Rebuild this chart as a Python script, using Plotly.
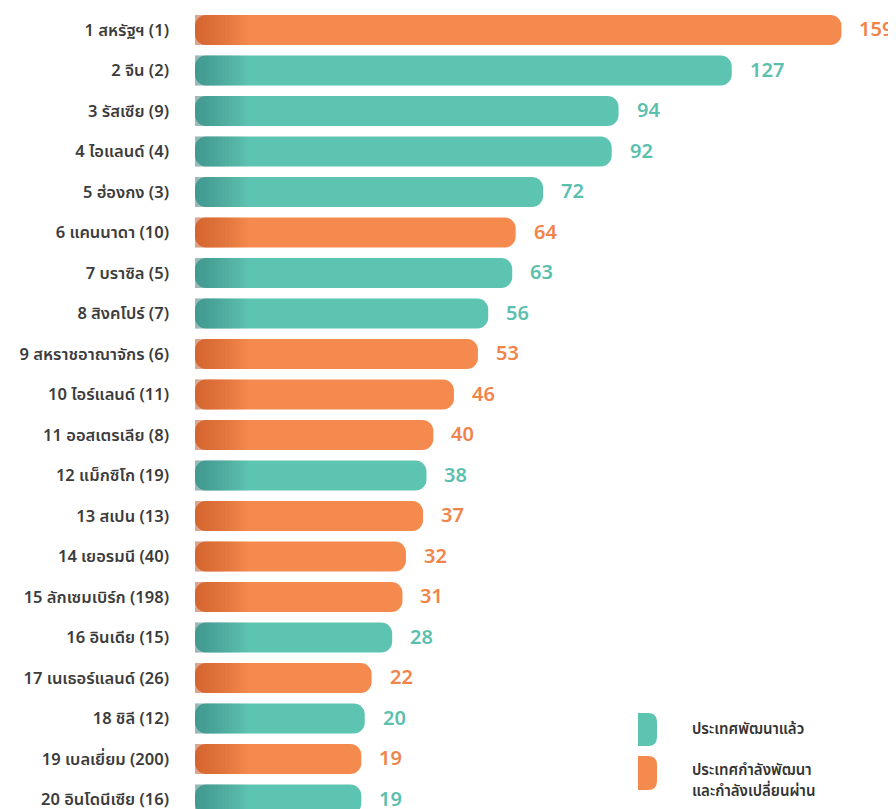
import plotly.graph_objects as go

labels = [
    "1 สหรัฐฯ (1)", "2 จีน (2)", "3 รัสเซีย (9)", "4 ไอแลนด์ (4)", "5 ฮ่องกง (3)",
    "6 แคนนาดา (10)", "7 บราซิล (5)", "8 สิงคโปร์ (7)", "9 สหราชอาณาจักร (6)",
    "10 ไอร์แลนด์ (11)", "11 ออสเตรเลีย (8)", "12 แม็กซิโก (19)", "13 สเปน (13)",
    "14 เยอรมนี (40)", "15 ลักเซมเบิร์ก (198)", "16 อินเดีย (15)",
    "17 เนเธอร์แลนด์ (26)", "18 ชิลี (12)", "19 เบลเยี่ยม (200)", "20 อินโดนีเซีย (16)",
]
values = [159, 127, 94, 92, 72, 64, 63, 56, 53, 46, 40, 38, 37, 32, 31, 28, 22, 20, 19, 19]
# D = developed, E = developing / transition
groups = ["E", "D", "D", "D", "D", "E", "D", "D", "E", "E",
          "E", "D", "E", "E", "E", "D", "E", "D", "E", "D"]
legend_lines = {"D": ["ประเทศพัฒนาแล้ว"], "E": ["ประเทศกำลังพัฒนา", "และกำลังเปลี่ยนผ่าน"]}

BAR_COL = {"D": "#5ec4b2", "E": "#f58a4e"}
DARK_COL = {"D": "rgba(40,120,105,0.045)", "E": "rgba(190,70,30,0.045)"}
TXT_COL = {"D": "#5bbfae", "E": "#f0844a"}

FONT = "Noto Sans Thai, Loma, Garuda, Noto Sans, sans-serif"
OFF = 8                      # page body margin in the browser
W, H = 896 - OFF, 809 - OFF
ML = 195 - OFF
AXIS_MIN, AXIS_MAX = -29.5, 174.9
ROW0, ROW_H = 30 - OFF, 40.5
Y_RANGE = [(H - ROW0) / ROW_H, -ROW0 / ROW_H]

fig = go.Figure()

for g in ["D", "E"]:
    idx = [i for i, gg in enumerate(groups) if gg == g]
    fig.add_trace(go.Bar(
        y=[labels[i] for i in idx],
        x=[values[i] - AXIS_MIN for i in idx],
        base=AXIS_MIN,
        orientation="h",
        width=0.74,
        marker=dict(color=BAR_COL[g], line=dict(width=0), cornerradius=11),
        name=" ".join(legend_lines[g]),
        showlegend=False,
        hovertext=[str(values[i]) for i in idx],
        hoverinfo="text+y",
    ))

# soft darker shading at the left end of each bar (gradient imitation)
for k in range(14):
    fig.add_trace(go.Bar(
        y=labels,
        x=[1.1 * (k + 1)] * len(labels),
        base=AXIS_MIN,
        orientation="h",
        width=0.74,
        marker=dict(color=[DARK_COL[g] for g in groups], line=dict(width=0), cornerradius=0),
        showlegend=False,
        hoverinfo="skip",
    ))

for lab, v, g in zip(labels, values, groups):
    fig.add_annotation(
        x=v, y=lab, xref="x", yref="y", text=str(v), showarrow=False,
        xanchor="left", yanchor="middle", xshift=16,
        font=dict(family=FONT, size=20, color=TXT_COL[g], weight=600),
    )

# custom legend (positions given in page pixels)
def px2paper(px, py):
    return (px - OFF - ML) / (W - ML), (H - (py - OFF)) / H

def rounded_right(x0, y0, x1, y1, r):
    a = px2paper(x0, y0)
    b = px2paper(x1 - r, y0)
    c = px2paper(x1, y0)
    d = px2paper(x1, y0 + r)
    e = px2paper(x1, y1 - r)
    f = px2paper(x1, y1)
    gq = px2paper(x1 - r, y1)
    h = px2paper(x0, y1)
    return (f"M {a[0]},{a[1]} L {b[0]},{b[1]} Q {c[0]},{c[1]} {d[0]},{d[1]} "
            f"L {e[0]},{e[1]} Q {f[0]},{f[1]} {gq[0]},{gq[1]} L {h[0]},{h[1]} Z")

fig.add_shape(type="path", xref="paper", yref="paper",
              path=rounded_right(638, 713, 657, 746, 9),
              fillcolor=BAR_COL["D"], line=dict(width=0))
fig.add_shape(type="path", xref="paper", yref="paper",
              path=rounded_right(638, 756, 657, 790, 9),
              fillcolor=BAR_COL["E"], line=dict(width=0))

legend_pos = [(legend_lines["D"][0], 729), (legend_lines["E"][0], 770), (legend_lines["E"][1], 791)]
for txt, py in legend_pos:
    lx, ly = px2paper(690, py)
    fig.add_annotation(x=lx, y=ly, xref="paper", yref="paper", text=txt,
                       showarrow=False, xanchor="left", yanchor="middle", align="left",
                       font=dict(family=FONT, size=15, color="#333333", weight=600))

fig.update_layout(
    width=W, height=H,
    margin=dict(l=ML, r=0, t=0, b=0, autoexpand=False),
    paper_bgcolor="white", plot_bgcolor="white",
    barmode="overlay",
    showlegend=False,
    font=dict(family=FONT),
    xaxis=dict(range=[AXIS_MIN, AXIS_MAX], visible=False, fixedrange=True, automargin=False),
    yaxis=dict(
        categoryorder="array", categoryarray=labels,
        range=Y_RANGE, showgrid=False, zeroline=False, showline=False,
        ticks="", ticklabelstandoff=25, automargin=False,
        tickfont=dict(family=FONT, size=16.5, color="#3c3c3c", weight=600),
        fixedrange=True,
    ),
)

fig.write_html("out.html")
